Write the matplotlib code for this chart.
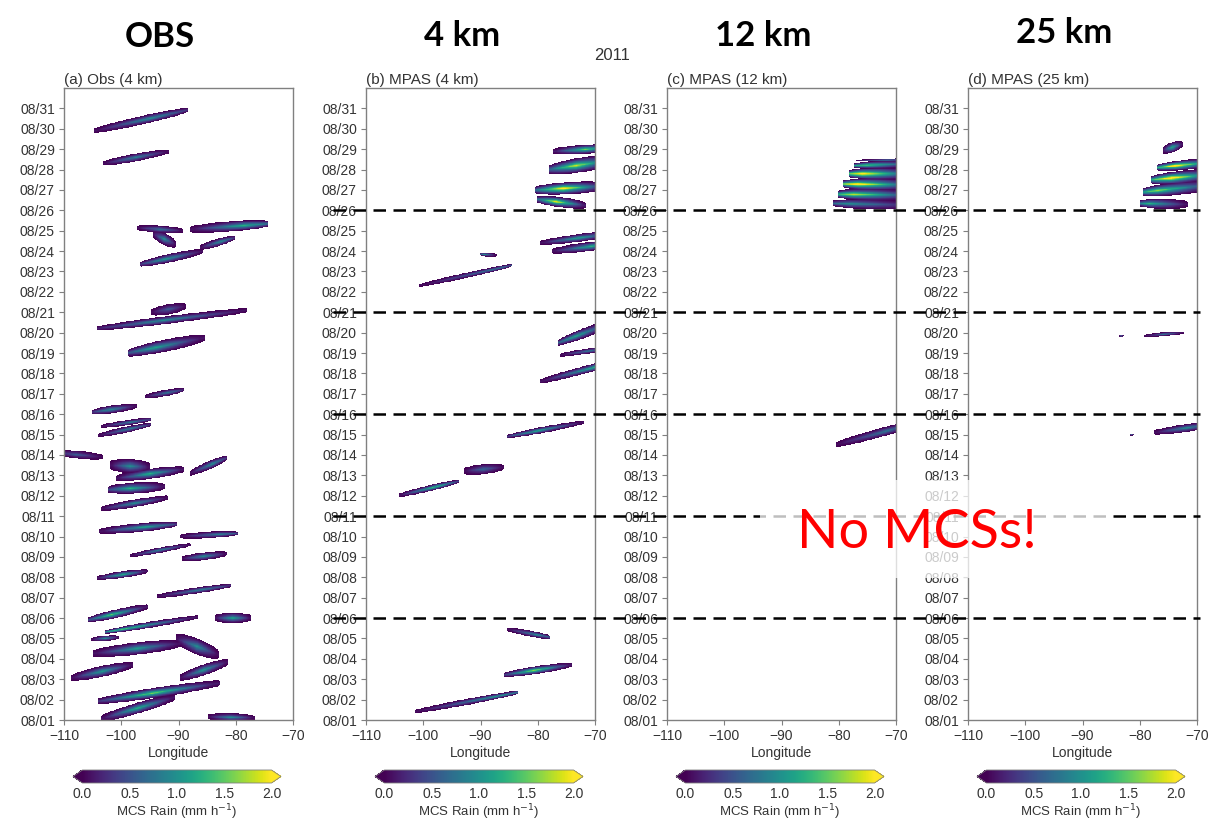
import numpy as np
import matplotlib
matplotlib.use('Agg')
import matplotlib.pyplot as plt
from matplotlib.lines import Line2D
from matplotlib.patches import Rectangle
from matplotlib import transforms

plt.rcParams['font.family'] = ['Liberation Sans', 'DejaVu Sans']

# MCS rain swaths, one tuple per track:
# (lon_west, day_west, lon_east, day_east, half_width_days, peak_rain, core_pos)
obs_tracks = [
    (-104.9, 29.9, -88.4, 30.93, 0.21, 1.0, 0.6),
    (-103.3, 28.3, -91.7, 28.9, 0.19, 0.9, 0.5),
    (-97.3, 25.15, -89.2, 25.0, 0.18, 0.8, 0.5),
    (-94.5, 24.85, -90.5, 24.35, 0.3, 1.0, 0.5),
    (-88.1, 25.07, -74.3, 25.35, 0.25, 1.3, 0.7),
    (-86.3, 24.17, -80.2, 24.66, 0.19, 1.0, 0.6),
    (-96.8, 23.35, -85.7, 24.0, 0.21, 1.1, 0.4),
    (-94.8, 21.0, -88.7, 21.3, 0.25, 0.6, 0.5),
    (-104.4, 20.2, -78.1, 21.1, 0.19, 1.0, 0.45),
    (-98.9, 19.0, -85.4, 19.75, 0.3, 1.2, 0.35),
    (-96.0, 16.85, -89.1, 17.2, 0.16, 0.8, 0.6),
    (-105.2, 16.1, -97.4, 16.4, 0.19, 1.0, 0.4),
    (-103.6, 15.4, -94.8, 15.75, 0.13, 0.9, 0.6),
    (-104.2, 14.95, -94.8, 15.5, 0.15, 0.9, 0.6),
    (-111.0, 14.1, -103.3, 13.9, 0.19, 0.6, 0.4),
    (-102.0, 13.5, -95.0, 13.4, 0.35, 1.0, 0.5),
    (-101.0, 12.85, -89.0, 13.3, 0.25, 1.3, 0.5),
    (-88.0, 13.1, -81.6, 13.85, 0.21, 1.0, 0.6),
    (-102.4, 12.3, -92.5, 12.45, 0.27, 1.3, 0.4),
    (-103.6, 11.35, -91.9, 11.9, 0.19, 1.0, 0.5),
    (-103.9, 10.25, -90.4, 10.6, 0.21, 1.2, 0.6),
    (-89.8, 10.0, -79.7, 10.15, 0.16, 0.9, 0.7),
    (-98.6, 9.05, -87.9, 9.6, 0.13, 0.9, 0.5),
    (-89.5, 8.9, -81.6, 9.15, 0.19, 1.0, 0.5),
    (-104.4, 7.95, -95.4, 8.3, 0.16, 1.3, 0.5),
    (-93.9, 7.05, -80.8, 7.6, 0.15, 0.9, 0.6),
    (-105.9, 5.9, -95.4, 6.55, 0.21, 1.5, 0.4),
    (-83.7, 6.0, -77.3, 6.0, 0.25, 1.2, 0.5),
    (-103.0, 5.3, -86.6, 6.05, 0.15, 1.5, 0.2),
    (-105.3, 4.95, -100.4, 5.05, 0.13, 1.0, 0.5),
    (-105.0, 4.25, -89.5, 4.75, 0.3, 1.1, 0.5),
    (-90.5, 5.0, -83.0, 4.2, 0.4, 1.0, 0.5),
    (-108.8, 3.05, -98.0, 3.7, 0.27, 1.1, 0.5),
    (-89.8, 3.05, -81.3, 3.85, 0.27, 1.1, 0.5),
    (-104.2, 1.9, -82.8, 2.8, 0.25, 1.6, 0.45),
    (-103.6, 1.05, -90.7, 2.1, 0.27, 1.3, 0.5),
    (-84.9, 1.15, -76.7, 1.1, 0.19, 1.0, 0.5),
]

mpas4_tracks = [
    (-77.3, 28.9, -66.0, 29.1, 0.22, 1.6, 0.5),
    (-78.1, 28.0, -66.0, 28.5, 0.36, 1.9, 0.4),
    (-80.5, 27.0, -68.0, 27.2, 0.3, 2.2, 0.4),
    (-80.2, 26.55, -71.5, 26.25, 0.25, 2.0, 0.4),
    (-79.6, 24.4, -66.0, 24.9, 0.19, 1.2, 0.5),
    (-77.5, 24.0, -66.0, 24.4, 0.22, 1.3, 0.6),
    (-100.9, 22.3, -84.6, 23.3, 0.13, 0.8, 0.8),
    (-90.1, 23.85, -87.2, 23.8, 0.1, 1.0, 0.3),
    (-76.4, 19.5, -66.0, 20.6, 0.25, 1.2, 0.3),
    (-76.1, 18.9, -66.0, 19.3, 0.13, 0.8, 0.5),
    (-79.6, 17.6, -66.0, 18.6, 0.19, 1.3, 0.7),
    (-85.4, 14.9, -72.0, 15.6, 0.15, 1.2, 0.4),
    (-93.0, 13.2, -86.0, 13.4, 0.25, 0.7, 0.5),
    (-104.4, 12.0, -93.9, 12.7, 0.15, 1.4, 0.6),
    (-85.4, 5.45, -77.8, 5.05, 0.15, 1.0, 0.7),
    (-86.0, 3.2, -74.0, 3.7, 0.19, 1.7, 0.45),
    (-101.5, 1.4, -83.4, 2.35, 0.15, 1.1, 0.8),
]

mpas12_tracks = [
    (-81.0, 26.35, -66.0, 26.25, 0.25, 1.0, 0.2),
    (-80.2, 26.8, -66.0, 26.75, 0.3, 1.9, 0.2),
    (-79.3, 27.3, -66.0, 27.25, 0.3, 2.3, 0.2),
    (-78.3, 27.8, -66.0, 27.8, 0.3, 2.3, 0.2),
    (-77.3, 28.2, -66.0, 28.3, 0.2, 1.6, 0.2),
    (-77.0, 28.45, -66.0, 28.5, 0.06, 0.9, 0.5),
    (-80.5, 14.5, -66.0, 15.6, 0.22, 0.8, 0.6),
]

mpas25_tracks = [
    (-80.0, 26.35, -71.5, 26.3, 0.25, 1.3, 0.2),
    (-79.5, 26.9, -66.0, 27.3, 0.32, 1.7, 0.2),
    (-78.0, 27.5, -66.0, 27.8, 0.32, 2.3, 0.3),
    (-77.0, 28.1, -66.0, 28.4, 0.25, 2.3, 0.3),
    (-76.0, 28.95, -72.5, 29.25, 0.25, 1.3, 0.5),
    (-79.2, 19.85, -72.3, 20.0, 0.09, 0.8, 0.5),
    (-83.6, 19.85, -82.8, 19.85, 0.06, 0.6, 0.5),
    (-81.8, 15.0, -81.0, 15.0, 0.05, 0.6, 0.5),
    (-77.5, 15.1, -66.0, 15.55, 0.19, 1.0, 0.5),
]

panel_tracks = [obs_tracks, mpas4_tracks, mpas12_tracks, mpas25_tracks]
panel_titles = ['(a) Obs (4 km)', '(b) MPAS (4 km)', '(c) MPAS (12 km)', '(d) MPAS (25 km)']
big_titles = ['OBS', '4 km', '12 km', '25 km']
day_ticks = list(range(1, 32))
lon_ticks = [-110, -100, -90, -80, -70]
cbar_ticks = [0.0, 0.5, 1.0, 1.5, 2.0]
dashed_days = [6, 11, 16, 21, 26]


def rasterize(tracks, lon, day):
    L, D = np.meshgrid(lon, day)
    field = np.zeros_like(L)
    for lw, dw, le, de, hw, peak, core in tracks:
        t = (L - lw) / (le - lw)
        inside = (t >= 0) & (t <= 1)
        tc = np.clip(t, 0, 1)
        centre = dw + tc * (de - dw)
        taper = np.sqrt(np.sin(np.pi * tc))
        half = hw * (0.45 + 0.55 * taper)
        cross = np.clip(1 - np.abs(D - centre) / half, 0, None)
        along = np.clip(1 - np.abs(tc - core) / max(core, 1 - core), 0.1, 1)
        val = np.where(inside, peak * cross ** 1.4 * along, 0)
        field = np.maximum(field, val)
    return np.ma.masked_less_equal(field, 0.0)


W, H = 1223, 824
fig = plt.figure(figsize=(W / 100, H / 100), dpi=100)


def fbox(x0, y0, x1, y1):
    return [x0 / W, 1 - y1 / H, (x1 - x0) / W, (y1 - y0) / H]


lon = np.arange(-110, -69.95, 0.1)
day = np.arange(1, 32.001, 0.02)
txt = '#333333'
spine_c = '#808080'
ax_lefts = [64, 366, 667, 968]
axes = []

for i, left in enumerate(ax_lefts):
    ax = fig.add_axes(fbox(left, 88, left + 229, 720))
    field = rasterize(panel_tracks[i], lon, day)
    im = ax.imshow(field, origin='lower', aspect='auto', cmap='viridis',
                   vmin=0, vmax=2, extent=[-110, -70, 1, 32],
                   interpolation='nearest')
    ax.set_xlim(-110, -70)
    ax.set_ylim(1, 32)
    ax.set_xticks(lon_ticks)
    ax.set_xticklabels([f'\u2212{abs(v)}' for v in lon_ticks])
    ax.set_yticks(day_ticks)
    ax.set_yticklabels([f'08/{d:02d}' for d in day_ticks])
    ax.tick_params(axis='both', labelsize=10, colors=spine_c, labelcolor=txt,
                   length=3.5, width=0.8, pad=3)
    for s in ax.spines.values():
        s.set_color(spine_c)
        s.set_linewidth(1.0)
    ax.set_xlabel('Longitude', fontsize=10, color=txt, labelpad=2)
    ax.set_title(panel_titles[i], loc='left', fontsize=11, color=txt, pad=3)

    cax = fig.add_axes(fbox(left + 9, 770, left + 217, 783))
    cb = fig.colorbar(im, cax=cax, orientation='horizontal', extend='both',
                      ticks=cbar_ticks)
    cb.set_ticklabels([f'{v:.1f}' for v in cbar_ticks])
    cb.outline.set_edgecolor(spine_c)
    cb.outline.set_linewidth(0.6)
    cax.tick_params(length=0, labelsize=10, labelcolor=txt, pad=3)
    cax.set_xlabel('MCS Rain (mm h$^{-1}$)', fontsize=9.5, color=txt, labelpad=1)
    axes.append(ax)

    fig.text((left + 96) / W, 1 - [47, 46, 46, 43][i] / H, big_titles[i],
             ha='center', va='baseline', fontsize=25, fontweight='bold',
             family=['Lato', 'DejaVu Sans'], color='black')

fig.text(612 / W, 1 - 60 / H, '2011', ha='center', va='baseline',
         fontsize=12, color=txt)

# dashed separators across panels b-d
trans = transforms.blended_transform_factory(fig.transFigure, axes[1].transData)
for d in dashed_days:
    fig.add_artist(Line2D([333 / W, 1200 / W], [d, d], transform=trans,
                          color='black', lw=1.8, dashes=(5, 3), zorder=4))

fig.add_artist(Rectangle((760 / W, 1 - 578 / H), 348 / W, 98 / H,
                         transform=fig.transFigure, facecolor='white',
                         edgecolor='none', alpha=0.75, zorder=5))
fig.text(917 / W, 1 - 548 / H, 'No MCSs!', ha='center', va='baseline',
         fontsize=39, color='red', family=['Lato', 'DejaVu Sans'], zorder=6)

fig.savefig('out.png', dpi=100)
